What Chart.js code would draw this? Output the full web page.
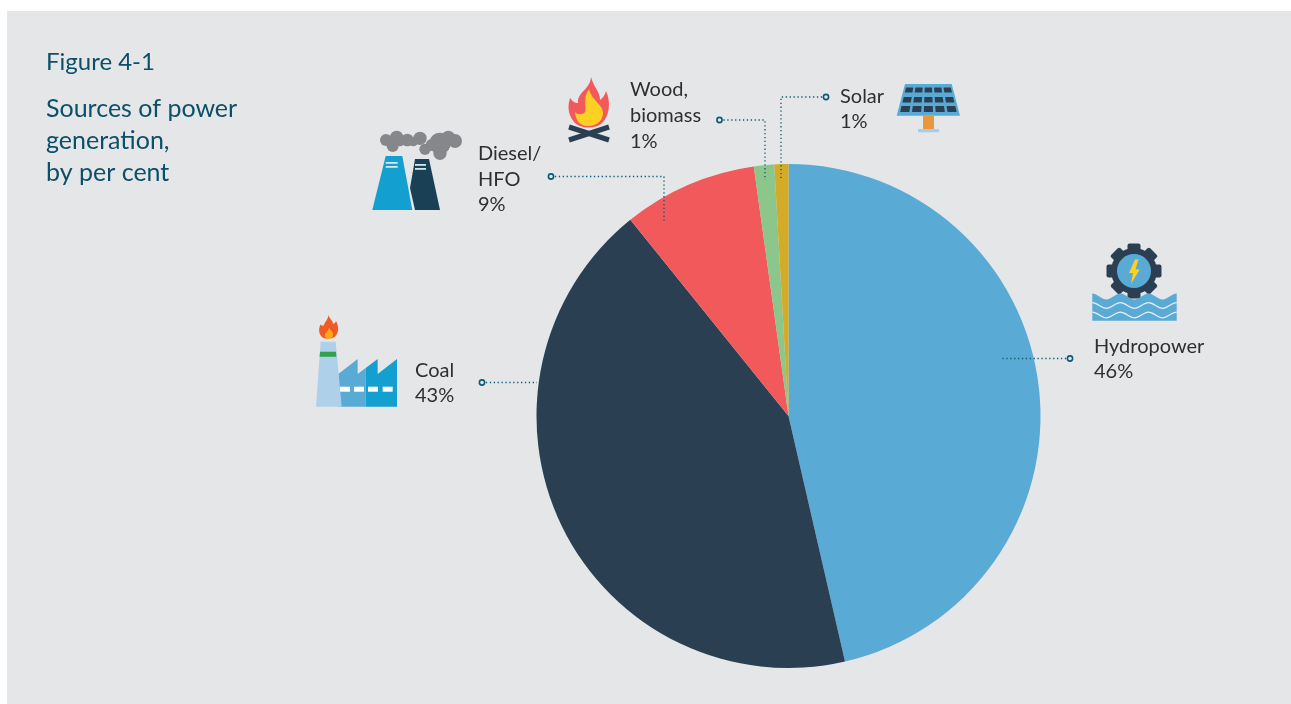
<!DOCTYPE html>
<html>
<head>
<meta charset="utf-8">
<title>Sources of power generation</title>
<script src="https://cdn.jsdelivr.net/npm/chart.js@4"></script>
<style>
html,body{margin:0;padding:0;background:#fff;overflow:hidden;width:1291px;height:704px}
#panel{position:absolute;left:7px;top:11px;width:1284px;height:693px;background:#e5e6e8}
#c{position:absolute;left:0;top:0}
#art{position:absolute;left:0;top:0}
</style>
</head>
<body>
<div id="panel"></div>
<canvas id="c" width="1291" height="704"></canvas>
<svg id="art" width="1291" height="704" viewBox="0 0 1291 704" xmlns="http://www.w3.org/2000/svg"></svg>
<script>
// ---- data ----
const categories = ["Hydropower", "Coal", "Diesel/HFO", "Wood, biomass", "Solar"];
const sliceValues = [46.4, 42.8, 8.6, 1.3, 0.9];
const sliceColors = ["#5aaad6", "#2a3f52", "#f2595b", "#8cc68a", "#d4ab27"];
const nameLines = [["Hydropower"], ["Coal"], ["Diesel/", "HFO"], ["Wood,", "biomass"], ["Solar"]];
const percentLabels = ["46%", "43%", "9%", "1%", "1%"];
const figureLabel = "Figure 4-1";
const titleLines = ["Sources of power", "generation,", "by per cent"];

// ---- layout of the annotations ----
const labelAnchors = [
  {x: 1094, y: 353, step: 25},
  {x: 415, y: 377, step: 25},
  {x: 478, y: 160, step: 25.5},
  {x: 630, y: 96, step: 26},
  {x: 840, y: 103, step: 25}
];
const leaders = [
  [[1070, 358.5], [1000, 358.5]],
  [[482, 382.5], [537, 382.5]],
  [[551, 176.5], [664, 176.5], [664, 221]],
  [[719.5, 120], [765, 120], [765, 180]],
  [[826, 97], [781, 97], [781, 180]]
];

const textPlugin = {
  id: 'textPlugin',
  afterDraw(chart) {
    const ctx = chart.ctx;
    ctx.save();
    ctx.textBaseline = 'alphabetic';
    ctx.textAlign = 'left';
    ctx.fillStyle = '#0b4f68';
    ctx.font = '24px Lato';
    ctx.fillText(figureLabel, 46, 70);
    ctx.font = '25px Lato';
    titleLines.forEach((t, i) => ctx.fillText(t, 46, 117 + i * 32));
    ctx.fillStyle = '#2f2e30';
    ctx.font = '20px Lato';
    categories.forEach((_, i) => {
      const a = labelAnchors[i];
      const lines = nameLines[i].concat(percentLabels[i]);
      lines.forEach((t, j) => ctx.fillText(t, a.x, a.y + j * a.step));
    });
    ctx.restore();
  }
};

new Chart(document.getElementById('c'), {
  type: 'pie',
  data: {
    labels: categories,
    datasets: [{data: sliceValues, backgroundColor: sliceColors, borderWidth: 0}]
  },
  options: {
    responsive: false,
    animation: false,
    layout: {padding: {left: 286, right: 0, top: 164, bottom: 36}},
    plugins: {legend: {display: false}, tooltip: {enabled: false}, title: {display: false}}
  },
  plugins: [textPlugin]
});

// ---- leaders and pictograms ----
let s = '';
const dark = '#2a3f52', blue = '#5aaad6', cyan = '#149fd1', red = '#f2595b', yellow = '#fdd023', teal = '#0d5a75';
leaders.forEach(pts => {
  s += `<polyline points="${pts.map(p => p.join(',')).join(' ')}" fill="none" stroke="${teal}" stroke-width="1.3" stroke-dasharray="1.3 2.6"/>`;
  s += `<circle cx="${pts[0][0]}" cy="${pts[0][1]}" r="2.6" fill="#e5e6e8" stroke="${teal}" stroke-width="1.6"/>`;
});

// diesel plant
const z1 = (x, y) => [300 + x / 3, 60 + y / 3];
[[258,240,18],[290,232,20],[322,240,19],[360,235,20],[278,258,18],[300,245,14],[340,245,14],[420,250,32],[445,232,20],[465,243,21],[420,280,20],[375,268,17],[395,255,18]].forEach(c => {
  const p = z1(c[0], c[1]);
  s += `<circle cx="${p[0]}" cy="${p[1]}" r="${c[2] / 3}" fill="#86878b"/>`;
});
s += `<polygon points="385.7,156 402.3,156 412.3,210 372.3,210" fill="${cyan}"/>`;
s += `<polygon points="415,159 429,159 440,210 415,210 410,188" fill="#1a4055"/>`;
s += `<rect x="385.7" y="162" width="12" height="1.8" fill="#d6e4ec"/><rect x="385.7" y="166" width="12" height="1.8" fill="#d6e4ec"/>`;
s += `<rect x="415" y="164" width="11" height="1.8" fill="#d6e4ec"/><rect x="415" y="168" width="11" height="1.8" fill="#d6e4ec"/>`;

// campfire
s += `<path d="M591 77 C594 88 600 91 600 100 C603 98 605 95 606 91 C611 101 610 117 601 124 C595 129 580 129 574 122 C567 113 568 105 570 98 C573 102 575 103 578 103 C577 92 590 90 591 77Z" fill="${red}"/>`;
s += `<path d="M589 89 C591 100 604 105 603 114 C602 123 594 126 588 126 C580 126 576 121 575 112 C577 115 583 115 585 112 C587 107 582 100 589 89Z" fill="${yellow}"/>`;
s += `<line x1="569" y1="127" x2="609" y2="140" stroke="${dark}" stroke-width="5"/><line x1="609" y1="127" x2="569" y2="140" stroke="${dark}" stroke-width="5"/>`;

// solar panel
s += `<polygon points="905,84 951.7,84 960,115.7 896.7,115.7" fill="${blue}"/>`;
[[87.5,92.5],[97,102.5],[106,112]].forEach(r => {
  for (let i = 0; i < 5; i++) {
    const lerp = (y, f) => {
      const t = (y - 84) / 31.7;
      const l = 905 - 8.3 * t, w = 46.7 + 16.6 * t;
      return l + w * f;
    };
    const f0 = 0.04 + i * 0.193, f1 = f0 + 0.15;
    s += `<polygon points="${lerp(r[0], f0)},${r[0]} ${lerp(r[0], f1)},${r[0]} ${lerp(r[1], f1)},${r[1]} ${lerp(r[1], f0)},${r[1]}" fill="${dark}"/>`;
  }
});
s += `<rect x="923" y="115.7" width="11" height="13.3" fill="#e8983a"/><rect x="918" y="129" width="21" height="3.3" fill="#a9cde8"/>`;

// coal plant
const z3 = pts => pts.map(p => (300 + p[0] / 3) + ',' + (300 + p[1] / 3)).join(' ');
s += `<polygon points="${z3([[115,222],[173,177],[173,222],[197,204],[197,320],[115,320]])}" fill="${blue}"/>`;
s += `<polygon points="${z3([[197,204],[233,177],[233,222],[291,177],[291,320],[197,320]])}" fill="${cyan}"/>`;
[[120,150],[162,192],[204,234],[248,278]].forEach(d => {
  s += `<rect x="${300 + d[0] / 3}" y="386.7" width="${(d[1] - d[0]) / 3}" height="5" fill="#fff"/>`;
});
s += `<polygon points="${z3([[62,125],[107,125],[125,320],[48,320]])}" fill="#aed0e9"/>`;
s += `<polygon points="${z3([[60,155],[108,155],[109,170],[59,170]])}" fill="#35a04a"/>`;
s += `<path d="M328.5 315 C330 320 333 320 333 324 C335 323 336 322 336 321 C339 326 339 333 335 336.5 C332 339.5 324 339.5 321.5 336.5 C318 333 319 327 320.5 324.5 C322 326 323 326 324 325 C325 321 328 320 328.5 315Z" fill="#f15a24"/>`;
s += `<path d="M329 328 C331 331 333.5 332 333 335 C332.5 338 330 339 329 339 C326 339 324.5 337 325 334.5 C326 332 328 331 329 328Z" fill="#fba81f"/>`;

// hydropower
const gx = 1134, gy = 271;
for (let i = 0; i < 8; i++) {
  s += `<rect x="${gx - 6.5}" y="${gy - 27.5}" width="13" height="12" rx="2" fill="${dark}" transform="rotate(${i * 45} ${gx} ${gy})"/>`;
}
s += `<circle cx="${gx}" cy="${gy}" r="23" fill="${dark}"/><circle cx="${gx}" cy="${gy}" r="17" fill="${blue}"/>`;
s += `<polygon points="1135,259.5 1129,273 1133,273 1131,284 1139.7,269.5 1135.5,269.5 1138.5,259.5" fill="${yellow}"/>`;
const wave = (y, amp) => {
  let d = `M1092.3 ${y - amp}`;
  for (let i = 0; i < 3; i++) {
    const x = 1092.3 + i * 28.13;
    d += ` C${x + 5} ${y - amp} ${x + 9} ${y + amp} ${x + 14.06} ${y + amp} C${x + 19} ${y + amp} ${x + 23} ${y - amp} ${x + 28.13} ${y - amp}`;
  }
  return d;
};
s += `<path d="${wave(296.5, 3)} L1176.7 320.7 L1092.3 320.7Z" fill="${blue}"/>`;
s += `<path d="${wave(305.5, 2.8)}" fill="none" stroke="#e5eef4" stroke-width="1.3"/>`;
s += `<path d="${wave(315, 2.8)}" fill="none" stroke="#e5eef4" stroke-width="1.3"/>`;
document.getElementById('art').innerHTML = s;
</script>
</body>
</html>
